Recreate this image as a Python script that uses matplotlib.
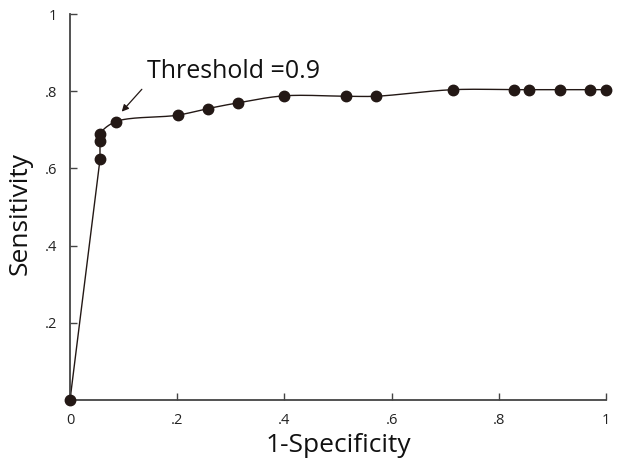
import numpy as np
import matplotlib
matplotlib.use("Agg")
import matplotlib.pyplot as plt

# ROC points
fpr = [0.0, 0.056, 0.056, 0.056, 0.085, 0.201, 0.257, 0.314, 0.399,
       0.514, 0.571, 0.714, 0.829, 0.857, 0.914, 0.971, 1.0]
tpr = [0.0, 0.624, 0.671, 0.689, 0.721, 0.738, 0.755, 0.770, 0.788,
       0.787, 0.787, 0.804, 0.804, 0.804, 0.804, 0.804, 0.804]
xticks = [0, 0.2, 0.4, 0.6, 0.8, 1.0]
xtick_labels = ["0", ".2", ".4", ".6", ".8", "1"]
yticks = [0.2, 0.4, 0.6, 0.8, 1.0]
ytick_labels = [".2", ".4", ".6", ".8", "1"]

plt.rcParams['font.family'] = ['Open Sans', 'DejaVu Sans']

DARK = "#231815"


def catmull_rom(xs, ys, sx=1.0, sy=1.0, n=30, alpha=0.5):
    """
    Centripetal Catmull-Rom curve through the points (only for drawing the line)
    """
    pts = np.column_stack([np.asarray(xs) * sx, np.asarray(ys) * sy])
    # drop consecutive duplicates
    keep = [0]
    for i in range(1, len(pts)):
        if np.linalg.norm(pts[i] - pts[keep[-1]]) > 1e-9:
            keep.append(i)
    pts = pts[keep]
    pts = np.vstack([2 * pts[0] - pts[1], pts, 2 * pts[-1] - pts[-2]])
    out = []
    for i in range(1, len(pts) - 2):
        p0, p1, p2, p3 = pts[i - 1], pts[i], pts[i + 1], pts[i + 2]
        t0 = 0.0
        t1 = t0 + np.linalg.norm(p1 - p0) ** alpha
        t2 = t1 + np.linalg.norm(p2 - p1) ** alpha
        t3 = t2 + np.linalg.norm(p3 - p2) ** alpha
        t = np.linspace(t1, t2, n)[:, None]
        a1 = (t1 - t) / (t1 - t0) * p0 + (t - t0) / (t1 - t0) * p1
        a2 = (t2 - t) / (t2 - t1) * p1 + (t - t1) / (t2 - t1) * p2
        a3 = (t3 - t) / (t3 - t2) * p2 + (t - t2) / (t3 - t2) * p3
        b1 = (t2 - t) / (t2 - t0) * a1 + (t - t0) / (t2 - t0) * a2
        b2 = (t3 - t) / (t3 - t1) * a2 + (t - t1) / (t3 - t1) * a3
        c = (t2 - t) / (t2 - t1) * b1 + (t - t1) / (t2 - t1) * b2
        out.append(c)
    out = np.vstack(out)
    return out[:, 0] / sx, out[:, 1] / sy


fig = plt.figure(figsize=(6.24, 4.72), dpi=100)
ax = fig.add_axes([0.1122, 0.1525, 0.8590, 0.8178])

# straight segment from origin, smooth curve afterwards
ax.plot(fpr[:2], tpr[:2], color=DARK, linewidth=1.0)
cx, cy = catmull_rom(fpr[1:], tpr[1:], sx=536, sy=386)
ax.plot(cx, cy, color=DARK, linewidth=1.0)
ax.plot(fpr, tpr, 'o', color=DARK, markersize=7.5, clip_on=False, zorder=5)

# label and arrow pointing at the threshold point
ax.text(0.143, 0.834, "Threshold =0.9", fontsize=18, color="#111111",
        ha='left', va='baseline')
ax.annotate("", xy=(0.0965, 0.747), xytext=(0.134, 0.805),
            arrowprops=dict(arrowstyle='-|>', color=DARK, lw=0.9,
                            mutation_scale=10, shrinkA=0, shrinkB=0))

ax.set_xlim(0, 1)
ax.set_ylim(0, 1)
ax.set_xticks(xticks)
ax.set_xticklabels(xtick_labels)
ax.set_yticks(yticks)
ax.set_yticklabels(ytick_labels)
ax.tick_params(direction='in', length=5, width=1, color="#444444",
               labelsize=10.5, labelcolor="#222222")
ax.tick_params(axis='x', pad=9)
ax.tick_params(axis='y', pad=9)

for side in ['top', 'right']:
    ax.spines[side].set_visible(False)
for side in ['left', 'bottom']:
    ax.spines[side].set_color("#444444")
    ax.spines[side].set_linewidth(1.3)

ax.set_xlabel("1-Specificity", fontsize=19, color="#111111", labelpad=4)
ax.set_ylabel("Sensitivity", fontsize=19, color="#111111")
ax.yaxis.set_label_coords(-0.07, 0.482)

fig.savefig("out.png", dpi=100)
